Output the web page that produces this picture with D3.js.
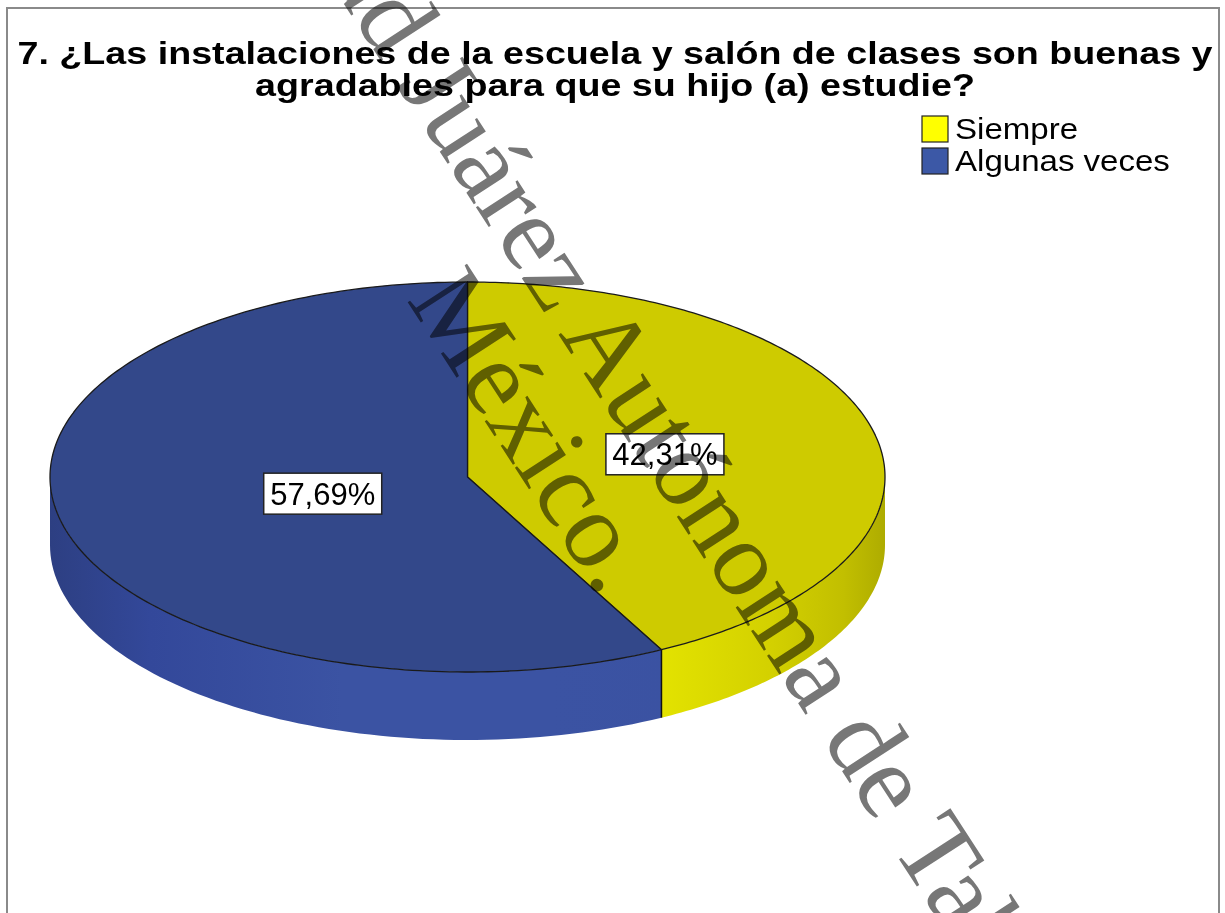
<!DOCTYPE html>
<html>
<head>
<meta charset="utf-8">
<script src="https://cdn.jsdelivr.net/npm/d3@7"></script>
<style>
  body { margin: 0; background: #fff; }
  svg { display: block; }
  .title { font-family: "Liberation Sans", Arial, sans-serif; font-weight: bold; font-size: 31px; }
  .lbl { font-family: "Liberation Sans", Arial, sans-serif; font-size: 31px; }
  .leg { font-family: "Liberation Sans", Arial, sans-serif; font-size: 29px; }
  .wm { font-family: "Liberation Serif", "Times New Roman", serif; font-size: 108px; fill: #777; mix-blend-mode: multiply; }
</style>
</head>
<body>
<svg width="1225" height="913"></svg>
<script>
var categories = ["Siempre", "Algunas veces"];
var values = [42.31, 57.69];
var legendColors = ["#ffff00", "#3c58a6"];
var topColors = ["#cecb00", "#33488a"];
var titleLines = ["7. ¿Las instalaciones de la escuela y salón de clases son buenas y",
                  "agradables para que su hijo (a) estudie?"];
var watermarkLines = ["Universidad Juárez Autónoma de Tabasco", "México."];

var svg = d3.select("svg"),
    width = +svg.attr("width"),
    height = +svg.attr("height");

var cx = 467.5, cy = 477, rx = 417.5, ry = 195, depth = 68;

// ellipse projection of the unit circle
var x = d3.scaleLinear().domain([-1, 1]).range([cx - rx, cx + rx]),
    y = d3.scaleLinear().domain([-1, 1]).range([cy - ry, cy + ry]);

function px(a, r) { return x(r * Math.sin(a)); }
function py(a, r) { return y(-r * Math.cos(a)); }

var pie = d3.pie().sort(null).value(function(d) { return d; });
var arcs = pie(values);

// frame
svg.append("rect")
    .attr("x", 7).attr("y", 8)
    .attr("width", 1212).attr("height", 940)
    .attr("fill", "#fff")
    .attr("stroke", "#8a8a8a")
    .attr("stroke-width", 2);

// gradients for the sides
var defs = svg.append("defs");
var sideStops = [
  [[0, "#e4e400"], [0.72, "#e4e400"], [0.86, "#d4d100"], [0.95, "#c2bf00"], [1, "#aeac00"]],
  [[0, "#2d3f82"], [0.12, "#33489a"], [0.35, "#3b53a3"], [0.6, "#3b53a3"], [1, "#3a50a0"]]
];
sideStops.forEach(function(stops, i) {
  var g = defs.append("linearGradient")
      .attr("id", "side" + i)
      .attr("gradientUnits", "userSpaceOnUse")
      .attr("x1", x(-1)).attr("x2", x(1)).attr("y1", 0).attr("y2", 0);
  stops.forEach(function(s) {
    g.append("stop").attr("offset", s[0]).attr("stop-color", s[1]);
  });
});

var chart = svg.append("g");

// side faces (front half only: angles between 90 and 270 deg)
arcs.forEach(function(d, i) {
  var a0 = Math.max(d.startAngle, Math.PI / 2),
      a1 = Math.min(d.endAngle, 3 * Math.PI / 2);
  if (a1 <= a0) return;
  var n = 80, pts = [], k;
  for (k = 0; k <= n; k++) {
    var a = a0 + (a1 - a0) * k / n;
    pts.push([px(a, 1), py(a, 1)]);
  }
  for (k = n; k >= 0; k--) {
    var b = a0 + (a1 - a0) * k / n;
    pts.push([px(b, 1), py(b, 1) + depth]);
  }
  chart.append("path")
      .attr("d", "M" + pts.join("L") + "Z")
      .attr("fill", "url(#side" + i + ")")
      .attr("stroke", "none");
});

// vertical edges at slice borders on the front
arcs.forEach(function(d) {
  var a = d.startAngle;
  if (a > Math.PI / 2 && a < 3 * Math.PI / 2) {
    chart.append("line")
        .attr("x1", px(a, 1)).attr("x2", px(a, 1))
        .attr("y1", py(a, 1)).attr("y2", py(a, 1) + depth)
        .attr("stroke", "#111").attr("stroke-width", 1.5);
  }
});

// top faces
arcs.forEach(function(d, i) {
  var n = 200, pts = [[x(0), y(0)]];
  for (var k = 0; k <= n; k++) {
    var a = d.startAngle + (d.endAngle - d.startAngle) * k / n;
    pts.push([px(a, 1), py(a, 1)]);
  }
  chart.append("path")
      .attr("d", "M" + pts.join("L") + "Z")
      .attr("fill", topColors[i])
      .attr("stroke", "#1a1a1a")
      .attr("stroke-width", 1.3)
      .attr("stroke-linejoin", "round");
});

// labels at the sector centroid
var fmt = function(v) { return d3.format(".2f")(v).replace(".", ",") + "%"; };
arcs.forEach(function(d, i) {
  var half = (d.endAngle - d.startAngle) / 2,
      mid = d.startAngle + half,
      r = 2 / 3 * Math.sin(half) / half,
      lx = px(mid, r), ly = py(mid, r);
  chart.append("rect")
      .attr("x", lx - 59).attr("y", ly - 20.5)
      .attr("width", 118).attr("height", 41)
      .attr("fill", "#fff")
      .attr("stroke", "#222")
      .attr("stroke-width", 1.5);
  chart.append("text")
      .attr("class", "lbl")
      .attr("x", lx).attr("y", ly + 11)
      .attr("text-anchor", "middle")
      .text(fmt(values[i]));
});

// title (the original is stretched horizontally)
svg.append("g")
    .attr("transform", "translate(615,0) scale(1.215,1)")
  .selectAll("text")
    .data(titleLines)
    .enter().append("text")
    .attr("class", "title")
    .attr("x", 0)
    .attr("y", function(d, i) { return 64 + i * 32; })
    .attr("text-anchor", "middle")
    .text(function(d) { return d; });

// legend
var legend = svg.append("g").attr("transform", "translate(922,116)");
var item = legend.selectAll("g")
    .data(categories)
    .enter().append("g")
    .attr("transform", function(d, i) { return "translate(0," + i * 32 + ")"; });
item.append("rect")
    .attr("width", 26).attr("height", 26)
    .attr("fill", function(d, i) { return legendColors[i]; })
    .attr("stroke", "#222").attr("stroke-width", 1.2);
item.append("text")
    .attr("class", "leg")
    .attr("transform", "translate(33,23) scale(1.14,1)")
    .text(function(d) { return d; });

// watermark
var wm = svg.append("g").attr("transform", "translate(588,380) rotate(57)");
wm.selectAll("text")
    .data(watermarkLines)
    .enter().append("text")
    .attr("class", "wm")
    .attr("x", function(d, i) { return i === 0 ? 0 : 12; })
    .attr("y", function(d, i) { return i === 0 ? 0 : 109; })
    .attr("text-anchor", "middle")
    .text(function(d) { return d; });
</script>
</body>
</html>
